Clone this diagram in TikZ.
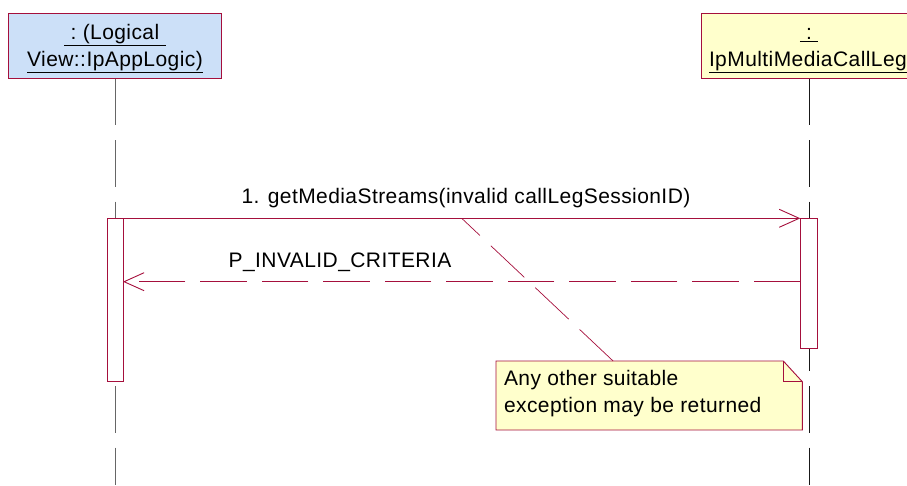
\documentclass[tikz,border=0pt]{standalone}
\usepackage{fontspec}
\setmainfont{Liberation Sans}[LetterSpace=2]
\usetikzlibrary{arrows.meta}
\definecolor{crim}{HTML}{A50F3C}
\definecolor{blfill}{HTML}{CCE0F8}
\definecolor{ylfill}{HTML}{FFFFCC}
\begin{document}
\begin{tikzpicture}[x=1pt,y=-1pt,
  every node/.style={inner sep=0pt,outer sep=0pt},
  objbox/.style={draw=crim,line width=0.9pt,minimum height=65.7pt},
  txt/.style={font=\fontsize{21}{27.4}\selectfont,text=black,anchor=base},
  lifeline/.style={line width=1pt,dash pattern=on 46.5pt off 15pt},
  actbox/.style={draw=crim,fill=white,line width=0.9pt},
  msgline/.style={draw=crim,line width=0.9pt,-{Straight Barb[length=20pt,width=18pt,line width=0.9pt]}},
  retline/.style={msgline,dash pattern=on 46.7pt off 14.8pt},
  noteline/.style={draw=crim,line width=0.7pt,dash pattern=on 46pt off 15pt}]
\useasboundingbox (0,0) rectangle (907,485);
% objects
\node[objbox,fill=blfill,minimum width=213pt] (L) at (114.5,45.85) {};
\node[objbox,fill=ylfill,minimum width=216pt] (R) at (809,45.85) {};
\node[txt] (L1) at (115,39.3) {\underline{\ :\ (Logical\ }};
\node[txt] (L2) at (115,66.7) {\underline{View::IpAppLogic)}};
\node[txt] (R1) at (809,39.3) {\underline{\ :\ }};
\node[txt,anchor=base west] (R2) at (709,66.7) {\underline{IpMultiMediaCallLeg}};
% lifelines
\coordinate (Lend) at (115,485);
\coordinate (Rend) at (809,485);
\draw[lifeline,draw=black!60] (L.south -| Lend) -- (Lend);
\draw[lifeline,draw=black!90] (R.south -| Rend) -- (Rend);
% activations
\node[actbox,minimum width=15.7pt,minimum height=162.7pt] (aL) at (115.15,299.65) {};
\node[actbox,minimum width=17.4pt,minimum height=130pt] (aR) at (809,283.3) {};
% messages
\draw[msgline] (aL.north east) -- (aR.north west);
\node[txt] (m1) at (466,203) {1. getMediaStreams(invalid callLegSessionID)};
\draw[retline] ([yshift=-63.4pt]aR.north west) -- ([yshift=-63.4pt]aL.north east);
\node[txt] (m2) at (340,267) {P\_INVALID\_CRITERIA};
% note
\node[minimum width=306.3pt,minimum height=69pt] (N) at (649.15,395.5) {};
\draw[crim,line width=0.9pt,fill=ylfill] (N.north west) -- ([xshift=-19pt]N.north east)
  -- ([yshift=-20.7pt]N.north east) -- (N.south east) -- (N.south west) -- cycle;
\draw[crim,line width=0.9pt] ([xshift=-19pt]N.north east) -- ([xshift=-19pt,yshift=-20.7pt]N.north east)
  -- ([yshift=-20.7pt]N.north east);
\node[txt,anchor=base west] (n1) at (504,385) {Any other suitable};
\node[txt,anchor=base west] (n2) at (504,412.7) {exception may be returned};
\coordinate (nc) at (461.7,218.3);
\draw[noteline] ([xshift=117.1pt]N.north west) -- (nc);
\end{tikzpicture}
\end{document}
